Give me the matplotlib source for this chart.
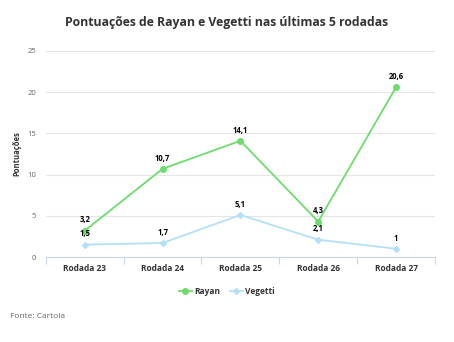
import matplotlib.pyplot as plt
import numpy as np

plt.rcParams['font.family'] = ['Open Sans', 'DejaVu Sans']

# data
rodadas = ['Rodada 23', 'Rodada 24', 'Rodada 25', 'Rodada 26', 'Rodada 27']
rayan = [3.2, 10.7, 14.1, 4.3, 20.6]
vegetti = [1.5, 1.7, 5.1, 2.1, 1.0]
yticks = [0, 5, 10, 15, 20, 25]

green = '#6ddc6d'
blue = '#b3e0f7'

fig = plt.figure(figsize=(4.54, 3.42), dpi=100)
ax = fig.add_axes([0.101, 0.2485, 0.857, 0.6025])

x = np.arange(len(rodadas))
ax.plot(x, rayan, '-o', color=green, lw=1.3, ms=4, label='Rayan', zorder=3)
ax.plot(x, vegetti, '-D', color=blue, lw=1.3, ms=3, label='Vegetti', zorder=2)

def fmt(v):
    s = ('%.1f' % v).replace('.', ',')
    return s[:-2] if s.endswith(',0') else s

for xi, v in zip(x, rayan):
    ax.annotate(fmt(v), (xi, v), xytext=(0, 4.5), textcoords='offset points',
                ha='center', va='bottom', fontsize=5.5, fontweight='bold', color='#000000')
for xi, v in zip(x, vegetti):
    ax.annotate(fmt(v), (xi, v), xytext=(0, 4.5), textcoords='offset points',
                ha='center', va='bottom', fontsize=5.5, fontweight='bold', color='#000000')

ax.set_xlim(-0.5, 4.5)
ax.set_ylim(0, 25)
ax.set_yticks(yticks)
ax.set_yticklabels([str(t) for t in yticks], fontsize=5.5, color='#666666')
ax.tick_params(axis='y', length=0, pad=7)
ax.grid(axis='y', color='#e6e6e6', lw=0.8)
ax.set_axisbelow(True)

ax.set_xticks(x)
ax.set_xticklabels(rodadas, fontsize=6, fontweight='bold', color='#333333')
ax.set_xticks(np.arange(-0.5, 5, 1), minor=True)
ax.tick_params(axis='x', which='major', length=0, pad=5)
ax.tick_params(axis='x', which='minor', length=5, color='#ccd6eb', width=0.8)

for s in ['top', 'right', 'left']:
    ax.spines[s].set_visible(False)
ax.spines['bottom'].set_color('#ccd6eb')
ax.spines['bottom'].set_linewidth(0.8)

ax.set_ylabel('Pontuações', fontsize=5.5, fontweight='bold', color='#333333')
ax.yaxis.set_label_coords(-0.062, 0.5)

fig.text(0.5, 0.935, 'Pontuações de Rayan e Vegetti nas últimas 5 rodadas',
         ha='center', va='center', fontsize=8.8, fontweight='bold', color='#333333')

leg = fig.legend(loc='center', bbox_to_anchor=(0.5, 0.148), ncol=2, frameon=False,
                 fontsize=6, handlelength=1.5, columnspacing=1.2, handletextpad=0.3)
for t in leg.get_texts():
    t.set_fontweight('bold')
    t.set_color('#333333')

fig.text(0.022, 0.076, 'Fonte: Cartola', ha='left', va='center', fontsize=6, color='#666666')

fig.savefig('out.png', dpi=100)
